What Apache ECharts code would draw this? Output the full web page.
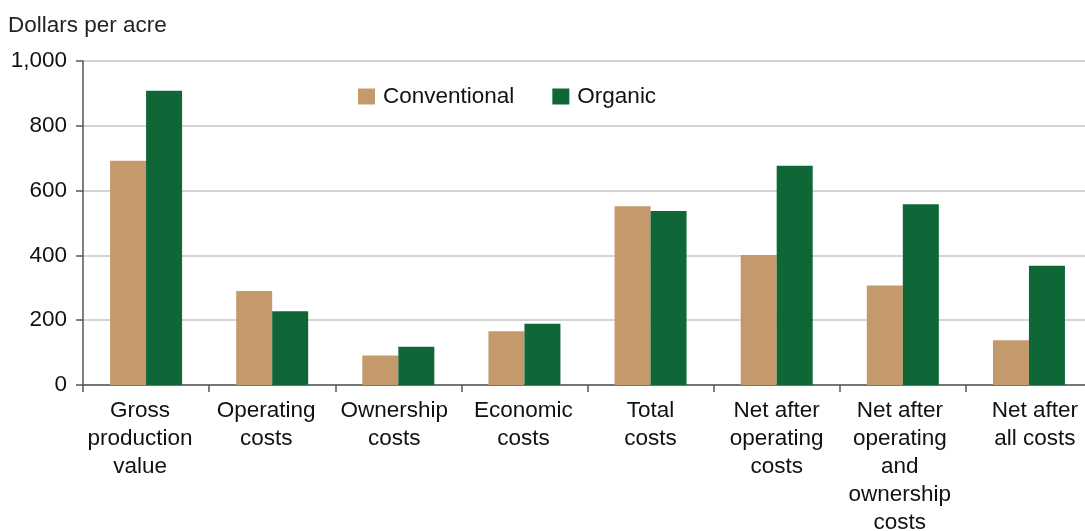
<!DOCTYPE html>
<html>
<head>
<meta charset="utf-8">
<script src="https://cdn.jsdelivr.net/npm/echarts@6/dist/echarts.min.js"></script>
<style>
  html, body { margin: 0; padding: 0; background: #fff; }
  #chart { width: 1085px; height: 531px; }
</style>
</head>
<body>
<div id="chart"></div>
<script>
// Per-acre returns and costs, conventional vs. organic
const categories = [
  'Gross\nproduction\nvalue',
  'Operating\ncosts',
  'Ownership\ncosts',
  'Economic\ncosts',
  'Total\ncosts',
  'Net after\noperating\ncosts',
  'Net after\noperating\nand\nownership\ncosts',
  'Net after\nall costs'
];
const conventional = [692, 290, 91, 166, 552, 401, 307, 138];
const organic = [908, 228, 118, 189, 537, 677, 558, 368];
const yTicks = { min: 0, max: 1000, interval: 200 };

const font = 'Liberation Sans, Arial, Helvetica, sans-serif';

// small horizontal nudges (px) for the category captions
const captionNudge = [-6, -6, -4, -1, 0, 0, -3, 6];
const xAxisData = categories.map((name, i) => {
  const d = captionNudge[i];
  return {
    value: name,
    textStyle: { padding: d < 0 ? [0, -2 * d, 0, 0] : [0, 0, 0, 2 * d] }
  };
});

const chart = echarts.init(document.getElementById('chart'));
chart.setOption({
  animation: false,
  textStyle: { fontFamily: font },
  title: {
    text: 'Dollars per acre',
    left: 3, top: 9,
    textStyle: { fontFamily: font, fontSize: 22.5, fontWeight: 'normal', color: '#222' }
  },
  legend: {
    left: 353, top: 80,
    itemWidth: 17, itemHeight: 16, itemGap: 38,
    icon: 'rect',
    textStyle: { fontFamily: font, fontSize: 22.5, color: '#111', padding: [0, 0, 0, 3] },
    data: ['Conventional', 'Organic']
  },
  // plot box runs slightly past the right edge; labels may overflow the container
  grid: { left: 83, right: -7, top: 61, bottom: 146, containLabel: false, outerBoundsMode: 'none' },
  xAxis: {
    type: 'category',
    data: xAxisData,
    axisLine: { lineStyle: { color: '#555', width: 1.5 } },
    axisTick: { show: true, length: 7, alignWithLabel: false, lineStyle: { color: '#555', width: 1.5 } },
    axisLabel: {
      interval: 0, margin: 12,
      fontFamily: font, fontSize: 22.5, lineHeight: 28, color: '#111'
    }
  },
  yAxis: {
    type: 'value',
    min: yTicks.min, max: yTicks.max, interval: yTicks.interval,
    axisLine: { show: true, lineStyle: { color: '#555', width: 1.5 } },
    axisTick: { show: true, length: 7, lineStyle: { color: '#555', width: 1.5 } },
    splitLine: { lineStyle: { color: '#c6c6c6', width: 1.5 } },
    axisLabel: {
      margin: 16, fontFamily: font, fontSize: 22.5, color: '#111',
      formatter: v => v.toLocaleString('en-US')
    }
  },
  series: [
    {
      name: 'Conventional', type: 'bar', data: conventional,
      barWidth: 36, barGap: '0%',
      itemStyle: { color: '#c49a6c' }
    },
    {
      name: 'Organic', type: 'bar', data: organic,
      barWidth: 36,
      itemStyle: { color: '#0f6738' }
    }
  ]
});
</script>
</body>
</html>
